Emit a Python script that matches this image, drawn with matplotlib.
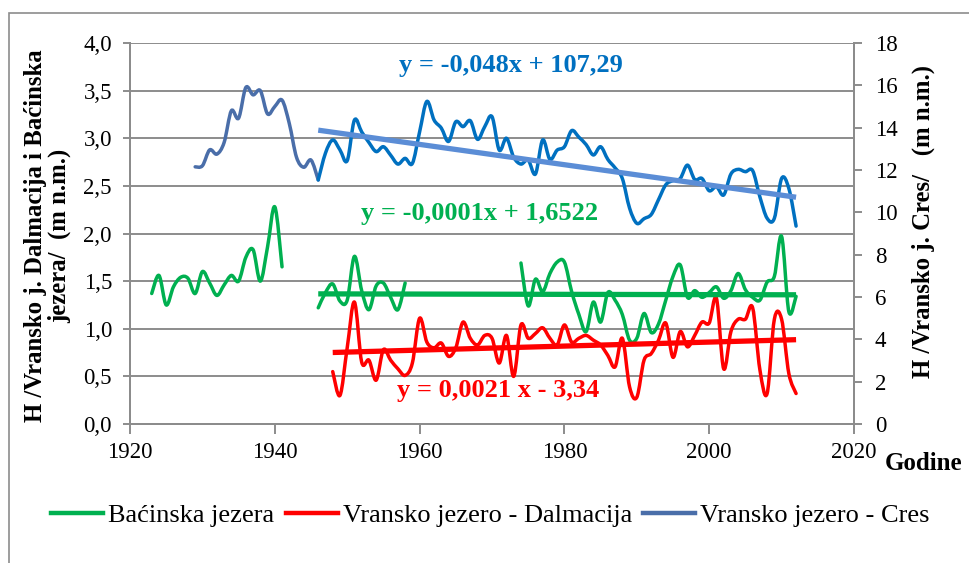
import numpy as np
import matplotlib
matplotlib.use("Agg")
import matplotlib.pyplot as plt
from matplotlib import font_manager
from matplotlib.path import Path
from matplotlib.patches import PathPatch, Rectangle
from matplotlib.lines import Line2D
from matplotlib.ticker import FuncFormatter, MultipleLocator

_names = {f.name for f in font_manager.fontManager.ttflist}
SERIF = 'Liberation Serif' if 'Liberation Serif' in _names else 'DejaVu Serif'
plt.rcParams['font.family'] = [SERIF, 'DejaVu Serif']

# --- Baćinska jezera (left axis, m n.m.) ---
bac_years_a = list(range(1923, 1942))
bac_vals_a = [1.37, 1.56, 1.25, 1.44, 1.54, 1.53, 1.37, 1.60, 1.48, 1.35,
              1.46, 1.56, 1.50, 1.75, 1.83, 1.50, 1.86, 2.28, 1.65]
bac_years_b = list(range(1946, 1959))
bac_vals_b = [1.22, 1.38, 1.47, 1.29, 1.30, 1.76, 1.40, 1.20, 1.45, 1.48,
              1.33, 1.20, 1.48]
bac_years_c = list(range(1974, 2013))
bac_vals_c = [1.69, 1.24, 1.52, 1.39, 1.58, 1.70, 1.70, 1.39, 1.15, 0.97,
              1.28, 1.07, 1.38, 1.30, 1.15, 0.88, 0.90, 1.16, 0.96, 1.05,
              1.30, 1.55, 1.67, 1.33, 1.40, 1.33, 1.38, 1.44, 1.32, 1.40,
              1.58, 1.41, 1.33, 1.30, 1.49, 1.55, 1.97, 1.18, 1.34]

# --- Vransko jezero - Dalmacija (left axis) ---
dal_years = list(range(1948, 2013))
dal_vals = [0.55, 0.30, 0.80, 1.28, 0.65, 0.67, 0.46, 0.78, 0.67, 0.58,   # 1948-57
            0.51, 0.64, 1.11, 0.86, 0.80, 0.85, 0.71, 0.80, 1.07, 0.90,   # 1958-67
            0.83, 0.93, 0.90, 0.64, 0.93, 0.50, 1.04, 0.90, 0.95, 1.01,   # 1968-77
            0.90, 0.83, 1.04, 0.86, 0.90, 0.93, 0.88, 0.83, 0.72, 0.60,   # 1978-87
            0.90, 0.39, 0.28, 0.67, 0.74, 0.88, 1.06, 0.70, 0.97, 0.81,   # 1988-97
            0.93, 1.07, 1.06, 1.32, 0.58, 0.97, 1.10, 1.10, 1.22, 0.57,   # 1998-07
            0.32, 1.10, 1.10, 0.53, 0.32]                                 # 2008-12

# --- Vransko jezero - Cres (right axis) ---
cres_years = list(range(1929, 2013))
cres_vals = [12.15, 12.20, 12.95, 12.75, 13.30, 14.80, 14.45, 15.90, 15.55, 15.75,
             14.65, 15.00, 15.30, 14.20, 12.60, 12.13, 12.47, 11.53, 12.80, 13.42,
             12.95, 12.44, 14.36, 13.80, 13.30, 12.87, 13.10, 12.70, 12.28, 12.55,
             12.31, 13.80, 15.24, 14.36, 13.98, 13.35, 14.28, 14.05, 14.33, 13.45,
             14.05, 14.52, 12.94, 13.50, 12.60, 12.28, 12.47, 11.81, 13.42, 12.50,
             12.94, 13.10, 13.86, 13.55, 13.20, 12.71, 13.10, 12.50, 12.10, 11.60,
             10.20, 9.48, 9.70, 9.90, 10.60, 11.30, 11.50, 11.60, 12.23, 11.55,
             11.60, 11.02, 11.21, 10.82, 11.81, 12.03, 11.92, 11.97, 10.73, 9.72,
             9.72, 11.60, 11.13, 9.35]
cres_split_year = 1946

# Linear trends (slope, intercept) and their year spans
trend_bac = (-0.000147, 1.6522)
trend_dal = (0.0021, -3.34)
trend_cres = (-0.048, 107.29)
trend_bac_span = (1946, 2012)
trend_dal_span = (1948, 2012)
trend_cres_span = (1946, 2012)

GREEN = '#00B050'
RED = '#FF0000'
BLUE = '#0070C0'
STEEL = '#4A6EA9'
TREND_BLUE = '#5B8DD6'
GRID = '#8C8C8C'


def smooth_path(xs, ys):
    """Cubic Bezier path through the points (Catmull-Rom style smoothing)."""
    pts = np.column_stack([np.asarray(xs, float), np.asarray(ys, float)])
    n = len(pts)
    verts = [pts[0]]
    codes = [Path.MOVETO]
    for i in range(n - 1):
        p0 = pts[i - 1] if i > 0 else pts[i]
        p1 = pts[i]
        p2 = pts[i + 1]
        p3 = pts[i + 2] if i + 2 < n else pts[i + 1]
        c1 = p1 + (p2 - p0) / 6.0
        c2 = p2 - (p3 - p1) / 6.0
        verts += [c1, c2, p2]
        codes += [Path.CURVE4] * 3
    return Path(verts, codes)


def draw_smooth(ax, xs, ys, color, lw, z=3):
    patch = PathPatch(smooth_path(xs, ys), facecolor='none', edgecolor=color,
                      lw=lw, capstyle='round', joinstyle='round', zorder=z)
    ax.add_patch(patch)


fig = plt.figure(figsize=(9.69, 5.63), dpi=100)
ax = fig.add_axes([130 / 969, 139 / 563, 724 / 969, 381 / 563])
ax2 = ax.twinx()

ax.set_xlim(1920, 2020)
ax.set_ylim(0, 4.0)
ax2.set_ylim(0, 18)

ax.yaxis.set_major_locator(MultipleLocator(0.5))
ax.yaxis.set_major_formatter(FuncFormatter(lambda v, p: f"{v:.1f}".replace('.', ',')))
ax.xaxis.set_major_locator(MultipleLocator(20))
ax2.yaxis.set_major_locator(MultipleLocator(2))

ax.grid(axis='y', color=GRID, lw=1.4, zorder=0)
ax.set_axisbelow(True)

for a in (ax, ax2):
    a.spines['top'].set_visible(False)
    for side in ('left', 'right', 'bottom'):
        a.spines[side].set_color(GRID)
        a.spines[side].set_linewidth(1.4)
ax.tick_params(axis='y', direction='out', length=5, width=1.4, color=GRID,
               labelsize=16.5, pad=8)
ax.tick_params(axis='x', direction='out', length=7, width=1.4, color=GRID,
               labelsize=16.5, pad=6)
ax2.tick_params(axis='y', direction='out', length=6, width=1.4, color=GRID,
                labelsize=16.5, pad=9)

# Series
lw = 2.5
draw_smooth(ax, bac_years_a, bac_vals_a, GREEN, lw)
draw_smooth(ax, bac_years_b, bac_vals_b, GREEN, lw)
draw_smooth(ax, bac_years_c, bac_vals_c, GREEN, lw)
draw_smooth(ax, dal_years, dal_vals, RED, lw)

k = cres_years.index(cres_split_year)
draw_smooth(ax2, cres_years[:k + 1], cres_vals[:k + 1], STEEL, lw)
draw_smooth(ax2, cres_years[k:], cres_vals[k:], BLUE, lw)

# Trend lines
tw = 3.8
for a, (m, b), (x0, x1), c in ((ax, trend_bac, trend_bac_span, GREEN),
                               (ax, trend_dal, trend_dal_span, RED),
                               (ax2, trend_cres, trend_cres_span, TREND_BLUE)):
    xx = np.array([x0, x1], float)
    a.plot(xx, m * xx + b, color=c, lw=tw, solid_capstyle='butt', zorder=4)


def eq_text(m, b, dec_m, dec_b, xsep=''):
    s_m = f"{m:.{dec_m}f}".replace('.', ',')
    sign = '+' if b >= 0 else '-'
    s_b = f"{abs(b):.{dec_b}f}".replace('.', ',')
    return f"y = {s_m}{xsep}x {sign} {s_b}"


EQ_SIZE = 19
ax.text(1972.6, 3.76, eq_text(*trend_cres, 3, 2), color=BLUE, fontsize=EQ_SIZE,
        fontweight='bold', ha='center', va='center', zorder=6)
ax.text(1968.3, 2.205, eq_text(*trend_bac, 4, 4), color=GREEN, fontsize=EQ_SIZE,
        fontweight='bold', ha='center', va='center', zorder=6)
ax.text(1970.8, 0.35, eq_text(*trend_dal, 4, 2, xsep=' '), color=RED,
        fontsize=EQ_SIZE, fontweight='bold', ha='center', va='center', zorder=6)

# Axis titles
fig.text(47.5 / 969, 1 - 236 / 563,
         "H /Vransko j. Dalmacija i Baćinska\njezera/  (m n.m.)",
         rotation=90, ha='center', va='center', fontsize=17.8, fontweight='bold',
         multialignment='center', linespacing=1.0)
fig.text(923 / 969, 1 - 222 / 563, "H /Vransko j. Cres/   (m n.m.)",
         rotation=90, ha='center', va='center', fontsize=17.8, fontweight='bold')
fig.text(885 / 969, 1 - 463 / 563, "Godine", ha='left', va='center',
         fontsize=18, fontweight='bold')

# Legend
handles = [Line2D([], [], color=GREEN, lw=3.2),
           Line2D([], [], color=RED, lw=3.2),
           Line2D([], [], color=STEEL, lw=3.2)]
labels = ["Baćinska jezera", "Vransko jezero - Dalmacija", "Vransko jezero - Cres"]
fig.legend(handles, labels, loc='center', bbox_to_anchor=(490.5 / 969, 1 - 515 / 563),
           ncol=3, frameon=False, fontsize=19, handlelength=1.97,
           handletextpad=0.19, columnspacing=0.42, borderaxespad=0)

# Outer chart border
fig.patches.append(Rectangle((9 / 969, -0.05), 1.2, 1 - 13 / 563 + 0.05,
                             transform=fig.transFigure, fill=False,
                             edgecolor=GRID, lw=1.2))

fig.savefig("out.png", dpi=100)
